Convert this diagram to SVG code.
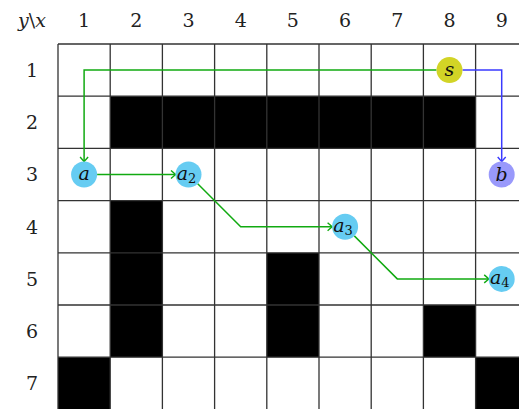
<svg xmlns="http://www.w3.org/2000/svg" width="519" height="409" viewBox="0 0 519 409">
<style>
.grid{stroke:#333;stroke-width:1.3;fill:none}
.blk{fill:#000}
.g{stroke:#11aa11;stroke-width:1.5;fill:none}
.b{stroke:#3a3aff;stroke-width:1.5;fill:none}
text{font-family:"DejaVu Serif",serif}
</style>
<defs>
<marker id="ag" markerWidth="10" markerHeight="10" refX="0" refY="0" viewBox="-6 -5 8 10" orient="auto" markerUnits="userSpaceOnUse">
<path d="M-4.5,-4 Q-1,-1 0,0 Q-1,1 -4.5,4" fill="none" stroke="#11aa11" stroke-width="1.4"/>
</marker>
<marker id="ab" markerWidth="10" markerHeight="10" refX="0" refY="0" viewBox="-6 -5 8 10" orient="auto" markerUnits="userSpaceOnUse">
<path d="M-4.5,-4 Q-1,-1 0,0 Q-1,1 -4.5,4" fill="none" stroke="#3a3aff" stroke-width="1.4"/>
</marker>
</defs>
<rect width="519" height="409" fill="#fff"/>
<g id="labels" font-size="19" fill="#222" text-anchor="middle">
<text x="32" y="27"><tspan font-style="italic">y</tspan>\<tspan font-style="italic">x</tspan></text>
<text x="84.1" y="27">1</text>
<text x="136.3" y="27">2</text>
<text x="188.5" y="27">3</text>
<text x="240.7" y="27">4</text>
<text x="292.9" y="27">5</text>
<text x="345.1" y="27">6</text>
<text x="397.3" y="27">7</text>
<text x="449.5" y="27">8</text>
<text x="501.7" y="27">9</text>
<text x="32" y="77">1</text>
<text x="32" y="129.2">2</text>
<text x="32" y="181.4">3</text>
<text x="32" y="233.6">4</text>
<text x="32" y="285.8">5</text>
<text x="32" y="338">6</text>
<text x="32" y="390.2">7</text>
</g>
<g id="obstacles">
<rect class="blk" x="110.2" y="96.2" width="365.4" height="52.2"/>
<rect class="blk" x="110.2" y="200.6" width="52.2" height="156.6"/>
<rect class="blk" x="266.8" y="252.8" width="52.2" height="104.4"/>
<rect class="blk" x="423.4" y="305" width="52.2" height="52.2"/>
<rect class="blk" x="58" y="357.2" width="52.2" height="52.2"/>
<rect class="blk" x="475.6" y="357.2" width="52.2" height="52.2"/>
</g>
<g id="grid" class="grid">
<path d="M58,44V409.4M110.2,44V409.4M162.4,44V409.4M214.6,44V409.4M266.8,44V409.4M319,44V409.4M371.2,44V409.4M423.4,44V409.4M475.6,44V409.4"/>
<path d="M58,44H528M58,96.2H528M58,148.4H528M58,200.6H528M58,252.8H528M58,305H528M58,357.2H528"/>
</g>
<g id="connectors">
<path class="g" d="M436.5,70.1H84.1V161.5" marker-end="url(#ag)"/>
<path class="g" d="M97.1,174.5H175.5" marker-end="url(#ag)"/>
<path class="g" d="M197.7,183.7L240.7,226.7H332.1" marker-end="url(#ag)"/>
<path class="g" d="M354.3,235.9L397.3,278.9H488.7" marker-end="url(#ag)"/>
<path class="b" d="M462.5,70.1H501.7V161.5" marker-end="url(#ab)"/>
</g>
<g id="nodes" font-style="italic" font-size="19" fill="#111" text-anchor="middle">
<g id="node-s"><circle cx="449.5" cy="70.1" r="13" fill="#d2d426"/><text x="449.5" y="75.5">s</text></g>
<g id="node-b"><circle cx="501.7" cy="174.5" r="13" fill="#9999fb"/><text x="501.7" y="181">b</text></g>
<g id="node-a"><circle cx="84.1" cy="174.5" r="13" fill="#66ccf2"/><text x="84.1" y="179.5">a</text></g>
<g id="node-a2"><circle cx="188.5" cy="174.5" r="13" fill="#66ccf2"/><text x="186.5" y="179.5">a<tspan font-style="normal" font-size="13" dy="3.5">2</tspan></text></g>
<g id="node-a3"><circle cx="345.1" cy="226.7" r="13" fill="#66ccf2"/><text x="343.1" y="231.7">a<tspan font-style="normal" font-size="13" dy="3.5">3</tspan></text></g>
<g id="node-a4"><circle cx="501.7" cy="278.9" r="13" fill="#66ccf2"/><text x="499.7" y="283.9">a<tspan font-style="normal" font-size="13" dy="3.5">4</tspan></text></g>
</g>
</svg>
